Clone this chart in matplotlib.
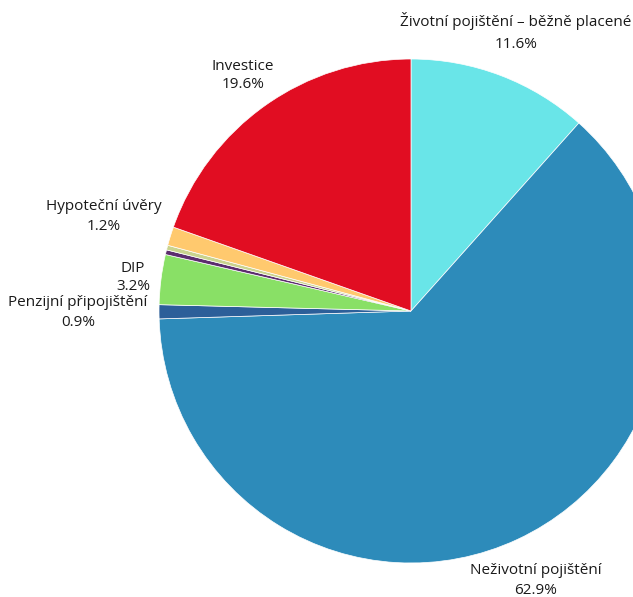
import matplotlib
matplotlib.use("Agg")
import matplotlib.pyplot as plt

categories = ["Životní pojištění – běžně placené", "Neživotní pojištění", "Penzijní připojištění",
              "DIP", "Ostatní A", "Ostatní B", "Hypoteční úvěry", "Investice"]
values = [11.6, 62.9, 0.9, 3.2, 0.3, 0.3, 1.2, 19.6]
colors = ["#69E5E8", "#2D8BBA", "#2C5F99", "#89E066", "#5C2D6E", "#C9D38E", "#FFC96E", "#E10D22"]
show_label = [True, True, True, True, False, False, True, True]
# label centre positions in pixels (x, y of first line, y of second line)
label_pos = [(516, 21, 44), (536, 571, 591), (78, 302, 323), (133, 268, 286),
             None, None, (104, 206, 226), (243, 67, 85)]

W, H = 633, 597
fig = plt.figure(figsize=(W / 100, H / 100), dpi=100)
ax = fig.add_axes([0, 0, 1, 1])
cx, cy, R = 411, 311, 252
ax.axis("off")

ax.pie(values, colors=colors, startangle=90, counterclock=False, radius=1,
       wedgeprops=dict(linewidth=0.5, edgecolor="white"))
ax.set_aspect("auto")
ax.set_xlim(-cx / R, (W - cx) / R)
ax.set_ylim(-(H - cy) / R, cy / R)

font = dict(family=["Open Sans", "DejaVu Sans"], fontsize=11, color="#1a1a1a")
for cat, v, show, pos in zip(categories, values, show_label, label_pos):
    if not show:
        continue
    x, y1, y2 = pos
    fig.text(x / W, 1 - y1 / H, cat, ha="center", va="center", **font)
    fig.text(x / W, 1 - y2 / H, f"{v:.1f}%", ha="center", va="center", **font)

fig.savefig("out.png", dpi=100)
